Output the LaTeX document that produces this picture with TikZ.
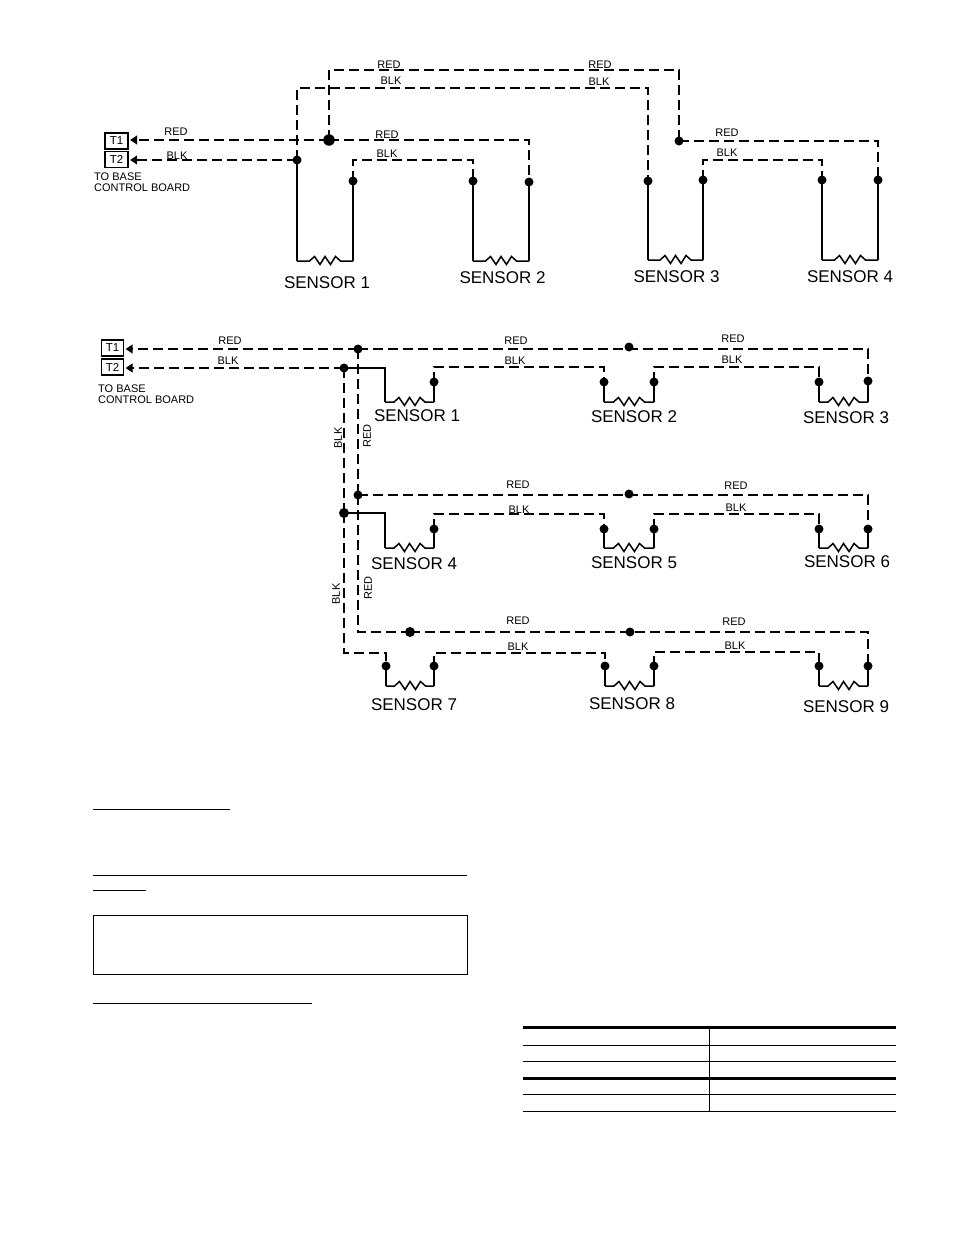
\documentclass[tikz,border=0pt]{standalone}
\usepackage{fontspec}
\setmainfont{Liberation Sans}
\usetikzlibrary{arrows.meta,calc}
\tikzset{
  x=1pt,y=-1pt,
  wire/.style={line width=1.5pt,dash pattern=on 10pt off 5pt,line join=miter},
  lead/.style={line width=1.5pt,line join=miter},
  tipwire/.style={wire,-{Triangle[length=7pt,width=9pt]},shorten >=1.5pt},
  jdot/.style={circle,fill=black,inner sep=0pt,minimum size=9pt},
  bigdot/.style={jdot,minimum size=11.5pt},
  term/.style={draw,line width=1.4pt,inner sep=0pt,minimum width=22pt,minimum height=16pt,font=\fontsize{11.5}{12}\selectfont},
  lab/.style={inner sep=0pt,font=\fontsize{11}{12}\selectfont},
  sens/.style={inner sep=0pt,font=\fontsize{17}{18}\selectfont},
  note/.style={inner sep=0pt,align=left,anchor=north west,font=\fontsize{11}{11}\selectfont},
  rule/.style={line width=1pt},
  heavy/.style={line width=3pt}
}
\newcommand{\res}[2]{\draw[lead] (#1) -- ($(#1)!.5!(#2)+(-15.5,0)$) -- ++(5,-4.5) -- ++(5.5,8) -- ++(5,-8) -- ++(5.5,8) -- ++(5,-8) -- ++(5,4.5) -- (#2);}
\newcommand{\lb}[4]{\node[lab] (#1) at (#2,#3) {#4};}
\newcommand{\lbr}[4]{\node[lab,rotate=90] (#1) at (#2,#3) {#4};}
\newcommand{\sn}[4]{\node[sens] (#1) at (#2,#3) {#4};}
\begin{document}
\begin{tikzpicture}
\path[fill=white] (0,0) rectangle (954,1235);
\useasboundingbox (0,0) rectangle (954,1235);

% ---------- upper diagram ----------
\node[term,minimum width=23pt] (aT1) at (116.5,141) {T1};
\node[term,minimum width=23pt] (aT2) at (116.5,159.5) {T2};
\node[note] (abase) at (94,172.5) {TO BASE\\CONTROL BOARD};

\node[bigdot] (a1) at (329,140) {};
\node[jdot] (a2) at (297,160) {};
\node[jdot] (a3) at (353,181) {};
\node[jdot] (a4) at (473,181) {};
\node[jdot] (a5) at (529,182) {};
\node[jdot] (a6) at (648,181) {};
\node[jdot] (a7) at (703,180) {};
\node[jdot] (a8) at (679,141) {};
\node[jdot] (a9) at (822,180) {};
\node[jdot] (a10) at (878,180) {};
\coordinate (ac1) at (679,70);
\coordinate (ac2) at (648,88);
\coordinate (ac3) at (473,160);
\coordinate (ac4) at (822,160);
\coordinate (ar1a) at (297,261);
\coordinate (ar1b) at (353,261);
\coordinate (ar2a) at (473,261);
\coordinate (ar2b) at (529,261);
\coordinate (ar3a) at (648,260);
\coordinate (ar3b) at (703,260);
\coordinate (ar4a) at (822,260);
\coordinate (ar4b) at (878,260);

\draw[tipwire] (a1.center) -- (aT1.east |- a1.center);
\draw[tipwire] (a2.center) -- (aT2.east |- a2.center);
\draw[wire] (a1.center) -| (a5.center);
\draw[wire] (a1.center) |- (ac1) -- (a8.center);
\draw[wire] (a8.center) -| (a10.center);
\draw[wire] (a2.center) |- (ac2) -- (a6.center);
\draw[wire] (a3.center) |- (ac3) -- (a4.center);
\draw[wire] (a7.center) |- (ac4) -- (a9.center);
\draw[lead] (a2.center) -- (ar1a);
\draw[lead] (a3.center) -- (ar1b);
\draw[lead] (a4.center) -- (ar2a);
\draw[lead] (a5.center) -- (ar2b);
\draw[lead] (a6.center) -- (ar3a);
\draw[lead] (a7.center) -- (ar3b);
\draw[lead] (a9.center) -- (ar4a);
\draw[lead] (a10.center) -- (ar4b);
\res{ar1a}{ar1b}
\res{ar2a}{ar2b}
\res{ar3a}{ar3b}
\res{ar4a}{ar4b}

\lb{al1}{176}{132}{RED}
\lb{al2}{177}{155.5}{BLK}
\lb{al3}{387}{134.5}{RED}
\lb{al4}{387}{153.5}{BLK}
\lb{al5}{389}{64.5}{RED}
\lb{al6}{391}{80.5}{BLK}
\lb{al7}{600}{64.5}{RED}
\lb{al8}{599}{81.5}{BLK}
\lb{al9}{727}{132.5}{RED}
\lb{al10}{727}{152.5}{BLK}
\sn{as1}{327}{282.5}{SENSOR 1}
\sn{as2}{502.5}{277.5}{SENSOR 2}
\sn{as3}{676.5}{276.5}{SENSOR 3}
\sn{as4}{850}{276.5}{SENSOR 4}

% ---------- lower diagram ----------
\node[term] (bT1) at (112.5,348) {T1};
\node[term] (bT2) at (112.5,367) {T2};
\node[note] (bbase) at (98,384.5) {TO BASE\\CONTROL BOARD};

\node[jdot] (r1) at (358,349) {};
\node[jdot] (r1m) at (629,347) {};
\node[jdot] (r2) at (358,495) {};
\node[jdot] (r2m) at (629,494) {};
\node[jdot,minimum size=10pt] (r3) at (410,632) {};
\node[jdot] (r3m) at (630,632) {};
\coordinate (r3c) at (358,632);
\node[jdot] (k1) at (344,368) {};
\node[bigdot,minimum size=10pt] (k2) at (344,513) {};
\coordinate (k3c) at (344,653);
% row 1
\node[jdot] (p1b) at (434,382) {};
\node[jdot] (p2a) at (604,382) {};
\node[jdot] (p2b) at (654,382) {};
\node[jdot] (p3a) at (819,382) {};
\node[jdot] (p3b) at (868,381) {};
% row 2
\node[jdot] (p4b) at (434,529) {};
\node[jdot] (p5a) at (604,529) {};
\node[jdot] (p5b) at (654,529) {};
\node[jdot] (p6a) at (819,529) {};
\node[jdot] (p6b) at (868,529) {};
% row 3
\node[jdot] (p7a) at (386,666) {};
\node[jdot] (p7b) at (434,666) {};
\node[jdot] (p8a) at (605,666) {};
\node[jdot] (p8b) at (654,666) {};
\node[jdot] (p9a) at (819,666) {};
\node[jdot] (p9b) at (868,666) {};
% bottom corners of the sensors
\coordinate (q1a) at (385,402); \coordinate (q1b) at (434,402);
\coordinate (q2a) at (604,402); \coordinate (q2b) at (654,402);
\coordinate (q3a) at (819,402); \coordinate (q3b) at (868,402);
\coordinate (q4a) at (385,548); \coordinate (q4b) at (434,548);
\coordinate (q5a) at (604,548); \coordinate (q5b) at (654,548);
\coordinate (q6a) at (819,548); \coordinate (q6b) at (868,548);
\coordinate (q7a) at (386,686); \coordinate (q7b) at (434,686);
\coordinate (q8a) at (605,686); \coordinate (q8b) at (654,686);
\coordinate (q9a) at (819,686); \coordinate (q9b) at (868,686);
% tops of the black jumpers
\coordinate (u1) at (604,367); \coordinate (u2) at (819,367);
\coordinate (u3) at (604,514); \coordinate (u4) at (819,514);
\coordinate (u5) at (605,653); \coordinate (u6) at (819,652);
\coordinate (u7) at (386,653);

\draw[tipwire] (r1.center) -- (bT1.east |- r1.center);
\draw[tipwire] (k1.center) -- (bT2.east |- k1.center);
\draw[wire] (r1.center) -| (p3b.center);
\draw[wire] (r1.center) -- (r2.center);
\draw[wire] (r2.center) -- (r3c) -- (r3.center);
\draw[wire] (r2.center) -| (p6b.center);
\draw[wire] (r3.center) -| (p9b.center);
\draw[wire] (k1.center) -- (k2.center);
\draw[wire] (k2.center) -- (k3c) -- (u7) -- (p7a.center);
% row 1
\draw[lead] (k1.center) -| (q1a);
\draw[wire] (p1b.center) |- (u1) -- (p2a.center);
\draw[wire] (p2b.center) |- (u2) -- (p3a.center);
\draw[lead] (p1b.center) -- (q1b);
\draw[lead] (p2a.center) -- (q2a);
\draw[lead] (p2b.center) -- (q2b);
\draw[lead] (p3a.center) -- (q3a);
\draw[lead] (p3b.center) -- (q3b);
\res{q1a}{q1b}
\res{q2a}{q2b}
\res{q3a}{q3b}
% row 2
\draw[lead] (k2.center) -| (q4a);
\draw[wire] (p4b.center) |- (u3) -- (p5a.center);
\draw[wire] (p5b.center) |- (u4) -- (p6a.center);
\draw[lead] (p4b.center) -- (q4b);
\draw[lead] (p5a.center) -- (q5a);
\draw[lead] (p5b.center) -- (q5b);
\draw[lead] (p6a.center) -- (q6a);
\draw[lead] (p6b.center) -- (q6b);
\res{q4a}{q4b}
\res{q5a}{q5b}
\res{q6a}{q6b}
% row 3
\draw[wire] (p7b.center) |- (u5) -- (p8a.center);
\draw[wire] (p8b.center) |- (u6) -- (p9a.center);
\draw[lead] (p7a.center) -- (q7a);
\draw[lead] (p7b.center) -- (q7b);
\draw[lead] (p8a.center) -- (q8a);
\draw[lead] (p8b.center) -- (q8b);
\draw[lead] (p9a.center) -- (q9a);
\draw[lead] (p9b.center) -- (q9b);
\res{q7a}{q7b}
\res{q8a}{q8b}
\res{q9a}{q9b}

\lb{bl1}{230}{340.5}{RED}
\lb{bl2}{228}{360.5}{BLK}
\lb{bl3}{516}{340.5}{RED}
\lb{bl4}{515}{360.5}{BLK}
\lb{bl5}{733}{338.5}{RED}
\lb{bl6}{732}{359.5}{BLK}
\lb{bl7}{518}{484.5}{RED}
\lb{bl8}{519}{509.5}{BLK}
\lb{bl9}{736}{485.5}{RED}
\lb{bl10}{736}{507.5}{BLK}
\lb{bl11}{518}{620.5}{RED}
\lb{bl12}{518}{646.5}{BLK}
\lb{bl13}{734}{621.5}{RED}
\lb{bl14}{735}{645.5}{BLK}
\lbr{bl15}{338}{438}{BLK}
\lbr{bl16}{367}{436}{RED}
\lbr{bl17}{336}{594}{BLK}
\lbr{bl18}{368}{588}{RED}
\sn{bs1}{417}{415.5}{SENSOR 1}
\sn{bs2}{634}{416.5}{SENSOR 2}
\sn{bs3}{846}{417.5}{SENSOR 3}
\sn{bs4}{414}{563.5}{SENSOR 4}
\sn{bs5}{634}{562.5}{SENSOR 5}
\sn{bs6}{847}{561.5}{SENSOR 6}
\sn{bs7}{414}{704.5}{SENSOR 7}
\sn{bs8}{632}{703.5}{SENSOR 8}
\sn{bs9}{846}{706.5}{SENSOR 9}

% ---------- rules, box and table ----------
\draw[rule] (93,809) -- (230,809);
\draw[rule] (93,875) -- (467,875);
\draw[rule] (93,890) -- (146,890);
\draw[rule] (93,915) rectangle (467,974);
\draw[rule] (93,1003) -- (312,1003);
\draw[heavy] (523,1027) -- (896,1027);
\draw[rule] (523,1045) -- (896,1045);
\draw[rule] (523,1061) -- (896,1061);
\draw[heavy] (523,1078) -- (896,1078);
\draw[rule] (523,1094) -- (896,1094);
\draw[rule] (523,1111) -- (896,1111);
\draw[rule] (709,1027) -- (709,1111);
\end{tikzpicture}
\end{document}
